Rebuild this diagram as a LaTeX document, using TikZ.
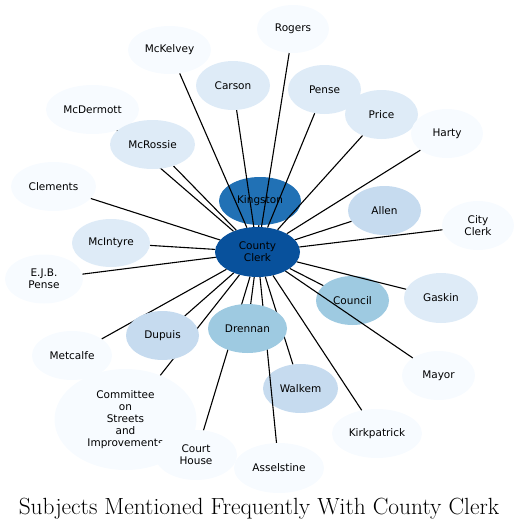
\documentclass[tikz,border=0pt]{standalone}
\usepackage{fontspec}
\newfontfamily\labelfont{DejaVu Sans}
\usetikzlibrary{shapes.geometric}
\definecolor{cdark}{HTML}{08519C}
\definecolor{cking}{HTML}{2171B5}
\definecolor{cmid}{HTML}{9ECAE1}
\definecolor{cpale}{HTML}{C6DBEF}
\definecolor{clight}{HTML}{DEEBF7}
\definecolor{cwhite}{HTML}{F7FBFF}
\pgfdeclarelayer{fg}
\pgfsetlayers{main,fg}
\begin{document}
\begin{tikzpicture}[x=1pt,y=-1pt,
  subj/.style={ellipse, inner sep=0pt, align=center, text=black,
    font=\labelfont\fontsize{10.5}{12}\selectfont},
  sz/.style 2 args={minimum width=#1pt, minimum height=#2pt},
  edge/.style={draw=black, line width=1.1pt}]
\useasboundingbox (0,0) rectangle (519,528);

% background-layer nodes (edges drawn over them)
\node[subj, fill=cking, sz={82}{48}] (kingston) at (260,201) {Kingston};
\node[subj, fill=cmid, sz={73}{49}] (council) at (352.5,300.5) {Council};
\node[subj, fill=cpale, sz={75}{49}] (walkem) at (300.5,388.5) {Walkem};
\node[subj, fill=cpale, sz={73}{49}] (allen) at (384.5,210.5) {Allen};
\node[subj, fill=clight, sz={78}{48}] (mcintyre) at (111,243) {McIntyre};
\node[subj, fill=clight, sz={74}{49}] (carson) at (233,85.5) {Carson};
\node[subj, fill=clight, sz={73}{49}] (pense) at (324.5,89.5) {Pense};
\node[subj, fill=clight, sz={73}{49}] (price) at (381.5,114.5) {Price};
\node[subj, fill=clight, sz={74}{50}] (gaskin) at (441,298) {Gaskin};
\node[subj, fill=cwhite, sz={83}{48}] (mckelvey) at (169.5,50) {McKelvey};
\node[subj, fill=cwhite, sz={72}{48}] (rogers) at (293,29) {Rogers};
\node[subj, fill=cwhite, sz={93}{49}] (mcdermott) at (92.5,109.5) {McDermott};
\node[subj, fill=cwhite, sz={85}{49}] (clements) at (53.5,186.5) {Clements};
\node[subj, fill=cwhite, sz={78}{49}] (ejb) at (44,279) {E.J.B.\\Pense};
\node[subj, fill=cwhite, sz={80}{49}] (metcalfe) at (72,355.5) {Metcalfe};
\node[subj, fill=cwhite, sz={142}{101}] (committee) at (125.5,419.5) {Committee\\on\\Streets\\and\\Improvements};
\node[subj, fill=cwhite, sz={82}{50}] (courthouse) at (196,455) {Court\\House};
\node[subj, fill=cwhite, sz={90}{50}] (asselstine) at (279,468) {Asselstine};
\node[subj, fill=cwhite, sz={90}{49}] (kirkpatrick) at (377,433.5) {Kirkpatrick};
\node[subj, fill=cwhite, sz={73}{49}] (mayor) at (438.5,375.5) {Mayor};
\node[subj, fill=cwhite, sz={72}{49}] (cityclerk) at (478,225.5) {City\\Clerk};
\node[subj, fill=cwhite, sz={72}{49}] (harty) at (447,133.5) {Harty};
\node[subj, fill=cdark, sz={85}{50}] (cc) at (257.5,252) {County\\Clerk};

% foreground nodes (drawn over edges)
\begin{pgfonlayer}{fg}
\node[subj, fill=cmid, sz={79}{49}] (drennan) at (247.5,328.5) {Drennan};
\node[subj, fill=cpale, sz={73}{49}] (dupuis) at (162.5,335.5) {Dupuis};
\node[subj, fill=clight, sz={85}{49}] (mcrossie) at (152.5,144.5) {McRossie};
\end{pgfonlayer}

% connectors
\foreach \n in {kingston,council,walkem,allen,mcintyre,carson,pense,price,gaskin,
  mckelvey,rogers,mcdermott,clements,ejb,metcalfe,committee,courthouse,asselstine,
  kirkpatrick,mayor,cityclerk,harty,drennan,dupuis,mcrossie}
  \draw[edge] (cc) -- (\n);

\node[anchor=base, font=\fontsize{23.4}{28}\selectfont] (title) at (259,514)
  {Subjects Mentioned Frequently With County Clerk};
\end{tikzpicture}
\end{document}
